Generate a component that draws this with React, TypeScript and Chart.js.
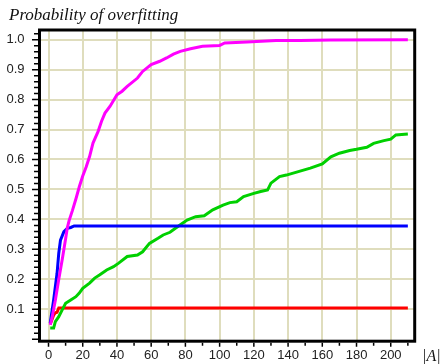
import { useEffect, useRef } from 'react';
import { Chart, registerables } from 'chart.js';

Chart.register(...registerables);

const titleText = 'Probability of overfitting';
const xAxisTitle = '|A|';

const xTickValues = [0, 20, 40, 60, 80, 100, 120, 140, 160, 180, 200];
const yTickValues = [0.1, 0.2, 0.3, 0.4, 0.5, 0.6, 0.7, 0.8, 0.9, 1.0];

const magentaX = [1, 2, 4, 6, 8, 10, 11, 12, 14, 16, 18, 20, 22, 24, 26, 29, 31, 33, 36, 40, 43, 46, 52, 55, 60, 65, 69, 73, 77, 83, 90, 100, 103, 116, 133, 147, 165, 210];
const magentaY = [0.048, 0.07, 0.13, 0.2, 0.265, 0.335, 0.372, 0.395, 0.43, 0.468, 0.509, 0.545, 0.575, 0.61, 0.655, 0.694, 0.728, 0.755, 0.778, 0.816, 0.828, 0.844, 0.872, 0.894, 0.917, 0.928, 0.939, 0.952, 0.961, 0.970, 0.978, 0.981, 0.989, 0.992, 0.997, 0.997, 0.999, 1.0];

const blueX = [1, 3, 5, 6, 7, 9, 11, 13, 15, 210];
const blueY = [0.053, 0.131, 0.22, 0.287, 0.331, 0.359, 0.37, 0.373, 0.378, 0.378];

const greenX = [1, 3, 4, 6, 8, 10, 13, 16, 18, 20, 24, 27, 30, 34, 38, 41, 46, 52, 55, 59, 64, 67, 71, 76, 81, 86, 91, 96, 102, 106, 110, 114, 120, 124, 128, 130, 135, 139, 147, 153, 160, 165, 170, 176, 180, 186, 190, 196, 200, 203, 210];
const greenY = [0.037, 0.037, 0.059, 0.075, 0.098, 0.12, 0.131, 0.142, 0.154, 0.17, 0.187, 0.204, 0.215, 0.231, 0.242, 0.254, 0.276, 0.281, 0.292, 0.32, 0.337, 0.348, 0.357, 0.378, 0.398, 0.409, 0.412, 0.432, 0.448, 0.456, 0.459, 0.476, 0.487, 0.493, 0.498, 0.521, 0.543, 0.548, 0.561, 0.571, 0.585, 0.609, 0.621, 0.63, 0.634, 0.641, 0.654, 0.663, 0.668, 0.682, 0.685];

const redX = [1, 3, 4, 5, 6, 210];
const redY = [0.05, 0.08, 0.088, 0.09, 0.104, 0.104];

const gridColor = '#dfddbd';

export default function App() {
  const ref = useRef<HTMLCanvasElement>(null);

  useEffect(() => {
    document.body.style.margin = '0';
    const canvas = ref.current;
    if (!canvas) return;
    const pts = (xs: number[], ys: number[]) => xs.map((x, i) => ({ x, y: ys[i] }));

    const framePlugin = {
      id: 'frame',
      afterDatasetsDraw(chart: any) {
        const { ctx, chartArea: a, scales } = chart;
        const xs = scales.x;
        const ys = scales.y;
        ctx.save();
        ctx.strokeStyle = '#000';
        ctx.lineWidth = 1.5;
        ctx.beginPath();
        for (let i = 0; i <= 51; i++) {
          const v = i * 0.02;
          const p = ys.getPixelForValue(v);
          if (p < a.top || p > a.bottom) continue;
          const len = i % 5 === 0 ? 6 : 4;
          ctx.moveTo(a.left - 1.5 - len, p);
          ctx.lineTo(a.left - 1.5, p);
        }
        for (let i = 0; i <= 21; i++) {
          const v = i * 10;
          const p = xs.getPixelForValue(v);
          if (p < a.left || p > a.right) continue;
          const len = i % 2 === 0 ? 4 : 3;
          ctx.moveTo(p, a.bottom + 1.5);
          ctx.lineTo(p, a.bottom + 1.5 + len);
        }
        ctx.stroke();
        ctx.lineWidth = 3;
        ctx.strokeRect(a.left, a.top, a.right - a.left, a.bottom - a.top);
        ctx.fillStyle = '#111';
        ctx.font = 'italic 17px "Liberation Serif"';
        ctx.textBaseline = 'alphabetic';
        ctx.textAlign = 'left';
        ctx.fillText(titleText, 9, 20);
        ctx.font = 'italic 16px "Liberation Serif"';
        ctx.fillText(xAxisTitle, 422, 361);
        ctx.restore();
      },
    };

    const chart = new Chart(canvas, {
      type: 'line',
      data: {
        datasets: [
          { data: pts(magentaX, magentaY), borderColor: '#ff00ff', borderWidth: 3, pointRadius: 0, tension: 0 },
          { data: pts(blueX, blueY), borderColor: '#0000ff', borderWidth: 3, pointRadius: 0, tension: 0 },
          { data: pts(greenX, greenY), borderColor: '#00d000', borderWidth: 3, pointRadius: 0, tension: 0 },
          { data: pts(redX, redY), borderColor: '#ff0000', borderWidth: 3, pointRadius: 0, tension: 0 },
        ],
      },
      options: {
        responsive: false,
        animation: false,
        devicePixelRatio: 1,
        layout: { padding: { top: 30, right: 26.3, left: 0, bottom: 0 } },
        plugins: { legend: { display: false }, title: { display: false }, tooltip: { enabled: false } },
        scales: {
          x: {
            type: 'linear',
            min: -5.26,
            max: 214.0,
            afterBuildTicks: (s: any) => { s.ticks = xTickValues.map((v) => ({ value: v })); },
            afterFit: (s: any) => { s.height = 22.7; },
            grid: { color: gridColor, lineWidth: 2, drawTicks: false },
            border: { display: false },
            ticks: {
              padding: 6,
              color: '#222',
              font: { family: '"Liberation Sans"', size: 13 },
              maxRotation: 0,
              autoSkip: false,
              callback: (v: any) => String(v),
            },
          },
          y: {
            type: 'linear',
            min: -0.0067,
            max: 1.0324,
            afterBuildTicks: (s: any) => { s.ticks = yTickValues.map((v) => ({ value: v })); },
            afterFit: (s: any) => { s.width = 39.5; },
            grid: { color: gridColor, lineWidth: 2, drawTicks: false },
            border: { display: false },
            ticks: {
              padding: 15,
              color: '#222',
              font: { family: '"Liberation Sans"', size: 13 },
              autoSkip: false,
              callback: (v: any) => Number(v).toFixed(1),
            },
          },
        },
      },
      plugins: [framePlugin],
    });
    return () => chart.destroy();
  }, []);

  return (
    <div style={{ position: 'fixed', left: 0, top: 0, width: 441, height: 364 }}>
      <canvas ref={ref} width={441} height={364} style={{ width: 441, height: 364, display: 'block' }} />
    </div>
  );
}
